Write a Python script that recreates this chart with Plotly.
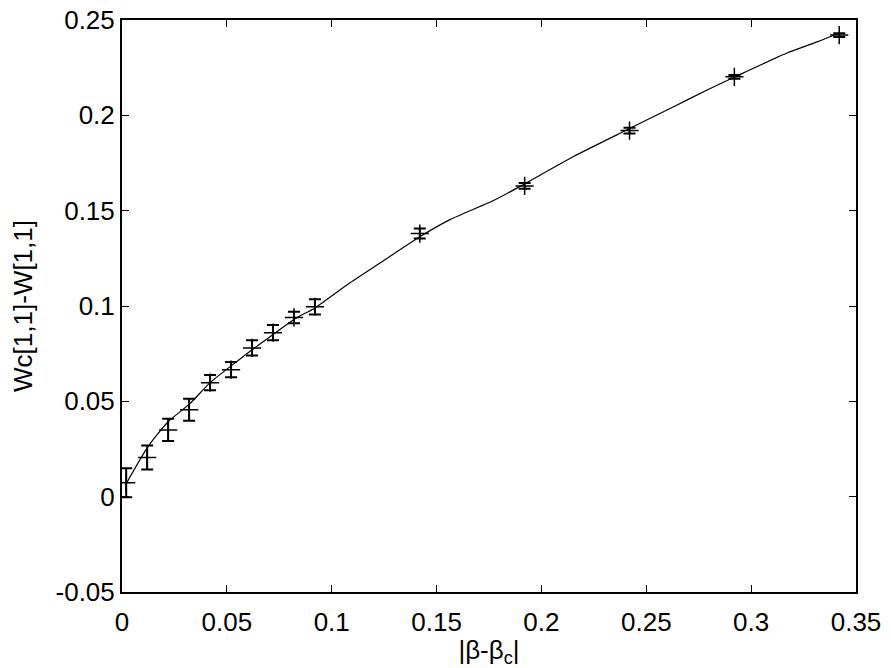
import plotly.graph_objects as go

# measured data points with error bars
x_data = [0.002, 0.012, 0.022, 0.032, 0.042, 0.052, 0.062, 0.072, 0.082, 0.092,
          0.142, 0.192, 0.242, 0.292, 0.342]
y_data = [0.0073, 0.0205, 0.035, 0.0456, 0.0598, 0.0666, 0.078, 0.086, 0.094, 0.0996,
          0.138, 0.163, 0.192, 0.2202, 0.2421]
y_err = [0.0076, 0.0063, 0.0058, 0.0058, 0.004, 0.004, 0.004, 0.004, 0.003, 0.004,
         0.0026, 0.0015, 0.0015, 0.001, 0.001]

# fitted curve
x_fit = [0.0015, 0.0124, 0.022, 0.0324, 0.042, 0.0525, 0.062, 0.072, 0.0825, 0.092,
         0.1087, 0.1245, 0.142, 0.1564, 0.1779, 0.1912, 0.2151, 0.2408, 0.2628, 0.279,
         0.2923, 0.3171, 0.3314, 0.342]
y_fit = [0.0058, 0.0262, 0.0393, 0.0488, 0.0598, 0.069, 0.077, 0.085, 0.0933, 0.099,
         0.1122, 0.1236, 0.1363, 0.1453, 0.1557, 0.1636, 0.1783, 0.1924, 0.2044, 0.2133,
         0.2202, 0.2327, 0.2385, 0.2432]

x_ticks = [0, 0.05, 0.1, 0.15, 0.2, 0.25, 0.3, 0.35]
x_ticktext = ["0", "0.05", "0.1", "0.15", "0.2", "0.25", "0.3", "0.35"]
y_ticks = [-0.05, 0, 0.05, 0.1, 0.15, 0.2, 0.25]
y_ticktext = ["-0.05", "0", "0.05", "0.1", "0.15", "0.2", "0.25"]

FONT = "Liberation Sans, Arial, Helvetica"

fig = go.Figure()
fig.add_trace(go.Scatter(
    x=x_fit, y=y_fit, mode="lines",
    line=dict(color="black", width=1.2, shape="spline", smoothing=0.6),
    showlegend=False, hoverinfo="skip"))
fig.add_trace(go.Scatter(
    x=x_data, y=y_data, mode="markers",
    marker=dict(symbol="cross-thin", size=13, color="black",
                line=dict(width=1.5, color="black")),
    error_y=dict(type="data", array=y_err, visible=True,
                 color="black", thickness=2, width=6),
    showlegend=False))

axis_common = dict(
    showgrid=False, zeroline=False, showline=True, linecolor="black",
    linewidth=2, mirror="ticks", ticks="inside", ticklen=7, tickwidth=1,
    tickcolor="black", automargin=False,
    tickfont=dict(family=FONT, size=26, color="black"),
)

fig.update_xaxes(range=[0, 0.35], tickvals=x_ticks, ticktext=x_ticktext,
                 ticklabelstandoff=6,
                 title=dict(text="|β-β<sub>c</sub>|",
                            font=dict(family=FONT, size=26, color="black")),
                 **axis_common)
fig.update_yaxes(range=[-0.05, 0.25], tickvals=y_ticks, ticktext=y_ticktext,
                 title=dict(text="Wc[1,1]-W[1,1]",
                            font=dict(family=FONT, size=26, color="black")),
                 **axis_common)

fig.update_layout(
    width=891, height=668,
    margin=dict(l=122, r=35, t=20, b=76),
    plot_bgcolor="white", paper_bgcolor="white",
    font=dict(family=FONT, color="black"),
)

fig.write_html("out.html", config={"displayModeBar": False},
               post_script="document.body.style.margin='0';document.body.style.overflow='hidden';")
